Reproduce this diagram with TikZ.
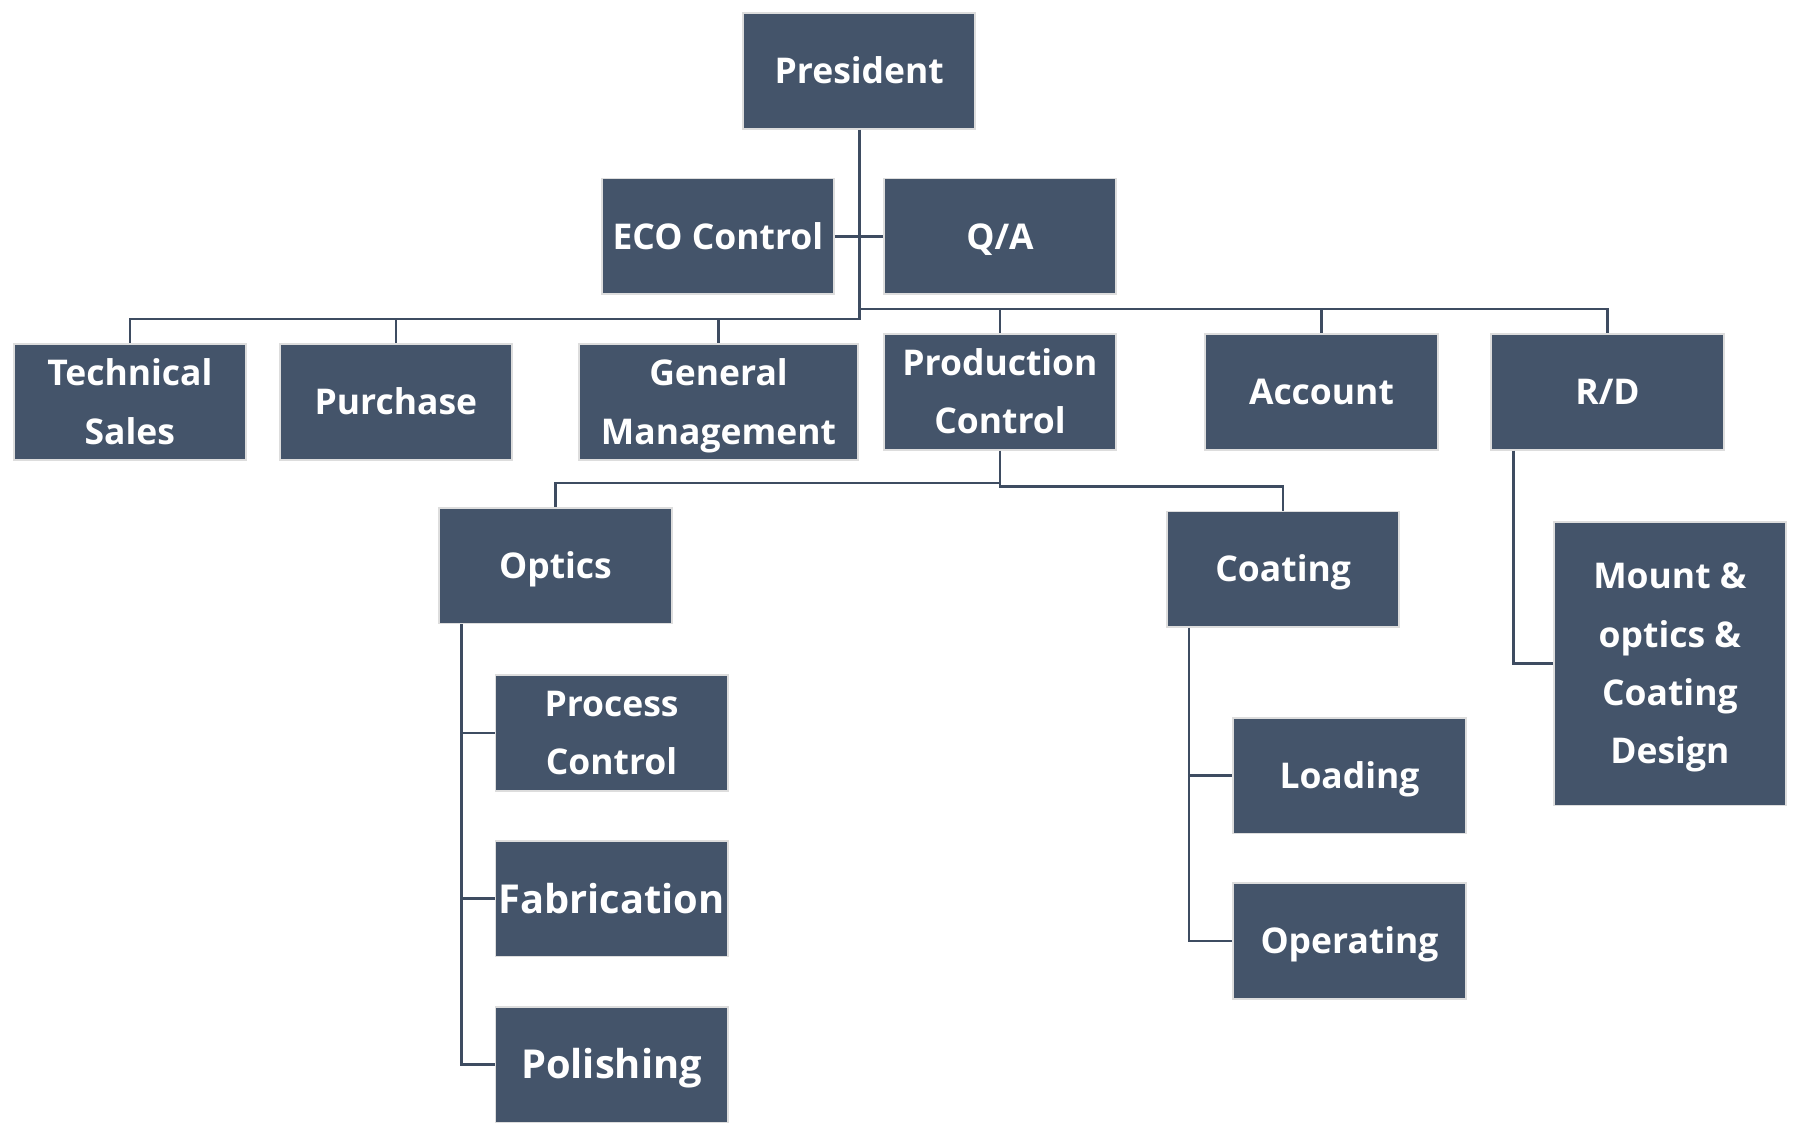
\documentclass[tikz,border=0pt]{standalone}
\usepackage{fontspec}
\setmainfont{Open Sans}
\definecolor{boxfill}{HTML}{44546A}
\definecolor{boxline}{HTML}{DDDDDD}
\definecolor{connc}{HTML}{3E4C61}
\newcommand\capline[1]{\raisebox{0pt}[0.72em][0pt]{#1}}
\begin{document}
\begin{tikzpicture}[x=0.5pt,y=-0.5pt,
  unit/.style={draw=boxline, line width=0.8pt, fill=boxfill, text=white,
    inner sep=0pt, minimum width=101.5pt, minimum height=50.5pt, align=center,
    font=\fontsize{15.5}{25.5}\selectfont\bfseries},
  bigtext/.style={font=\fontsize{17.4}{25.5}\selectfont\bfseries},
  conn/.style={draw=connc, line width=1.1pt}]
\useasboundingbox (0,0) rectangle (1568,982);
% top
\node[unit] (pres) at (751,62) {\capline{President}};
\node[unit] (eco) at (627.5,206.5) {\capline{ECO Control}};
\node[unit] (qa) at (874,206.5) {\capline{Q/A}};
% second level
\node[unit] (ts) at (113.5,351.5) {\capline{Technical}\\\capline{Sales}};
\node[unit] (pur) at (346,351.5) {\capline{Purchase}};
\node[unit, minimum width=122pt] (gm) at (628,351.5) {\capline{General}\\\capline{Management}};
\node[unit] (pc) at (874,342.5) {\capline{Production}\\\capline{Control}};
\node[unit] (acc) at (1155,342.5) {\capline{Account}};
\node[unit] (rd) at (1405,342.5) {\capline{R/D}};
% third level
\node[unit] (opt) at (485.5,494.5) {\capline{Optics}};
\node[unit] (coat) at (1121.5,497.5) {\capline{Coating}};
\node[unit, minimum height=124pt] (mount) at (1459.5,580) {\capline{Mount \&}\\\capline{optics \&}\\\capline{Coating}\\\capline{Design}};
\node[unit] (proc) at (534.5,640.5) {\capline{Process}\\\capline{Control}};
\node[unit, bigtext] (fab) at (534.5,785.5) {\capline{Fabrication}};
\node[unit, bigtext] (pol) at (534.5,930.5) {\capline{Polishing}};
\node[unit] (load) at (1179.5,678) {\capline{Loading}};
\node[unit] (oper) at (1179.5,822.5) {\capline{Operating}};
% junctions
\coordinate (jl) at (751,279);
\coordinate (jr) at (751,270);
\coordinate (pl) at (874,422);
\coordinate (pr) at (874,425);
% connectors
\draw[conn] (pres.south) -- (jl) -| (ts.north);
\draw[conn] (jl) -| (pur.north);
\draw[conn] (jl) -| (gm.north);
\draw[conn] (jr) -| (pc.north);
\draw[conn] (jr) -| (acc.north);
\draw[conn] (jr) -| (rd.north);
\draw[conn] (eco.east) -- (qa.west);
\draw[conn] (pc.south) -- (pr) -| (coat.north);
\draw[conn] (pl) -| (opt.north);
\draw[conn] ([xshift=10pt]opt.south west) |- (proc.west);
\draw[conn] ([xshift=10pt]opt.south west) |- (fab.west);
\draw[conn] ([xshift=10pt]opt.south west) |- (pol.west);
\draw[conn] ([xshift=10pt]coat.south west) |- (load.west);
\draw[conn] ([xshift=10pt]coat.south west) |- (oper.west);
\draw[conn] ([xshift=10pt]rd.south west) |- (mount.west);
\end{tikzpicture}
\end{document}
